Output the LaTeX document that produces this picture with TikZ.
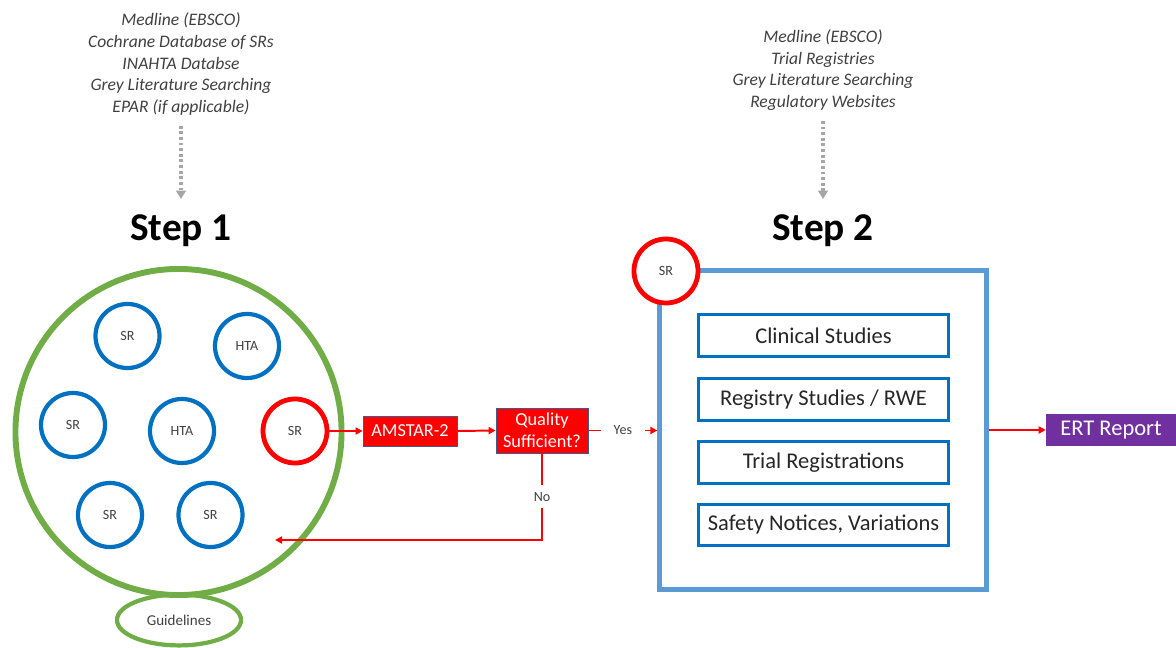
\documentclass[tikz,border=0pt]{standalone}
\usepackage{fontspec}
\setmainfont{Carlito}
\usepackage{xcolor}
\usepackage{tikz}
\usetikzlibrary{arrows.meta,shapes.geometric,positioning}

\definecolor{stepgreen}{RGB}{112,173,71}
\definecolor{srblue}{RGB}{0,112,192}
\definecolor{boxblue}{RGB}{91,155,213}
\definecolor{ertpurple}{RGB}{112,48,160}
\definecolor{textgray}{RGB}{64,64,64}
\definecolor{dotgray}{RGB}{166,166,166}
\definecolor{boxedge}{RGB}{65,90,140}

\begin{document}
\begin{tikzpicture}[x=0.025cm,y=-0.025cm,
    srctext/.style={align=center,text=textgray,font=\fontsize{12.5}{15.4}\selectfont\itshape},
    steptitle/.style={anchor=base,font=\fontsize{28}{33}\selectfont\bfseries},
    bluecirc/.style={circle,draw=srblue,line width=3pt,minimum size=1.6cm,text=textgray,font=\fontsize{10}{12}\selectfont},
    redcirc/.style={circle,draw=red,fill=white,line width=3.4pt,minimum size=1.6cm,text=textgray,font=\fontsize{10}{12}\selectfont},
    redbox/.style={fill=red,draw=boxedge,line width=0.5pt,text=white,align=center,inner sep=0pt},
    studybox/.style={draw=srblue,line width=2.2pt,minimum width=6.25cm,minimum height=1.03cm,text=black!85,font=\fontsize{16}{19}\selectfont},
    redarrow/.style={red,line width=1.4pt,-{Triangle[length=5pt,width=5pt]}},
    dotarrow/.style={dotgray,line width=2.2pt,dash pattern=on 2pt off 2pt,-{Triangle[length=6pt,width=7pt]}},
    smalllabel/.style={fill=white,text=textgray,font=\fontsize{10}{12}\selectfont}]

    \useasboundingbox (0,0) rectangle (1176,648);

    % Sources
    \node[srctext] (src1) at (181,64) {Medline (EBSCO)\\Cochrane Database of SRs\\INAHTA Databse\\Grey Literature Searching\\EPAR (if applicable)};
    \node[srctext] (src2) at (823,70) {Medline (EBSCO)\\Trial Registries\\Grey Literature Searching\\Regulatory Websites};

    % Step titles
    \node[steptitle] (step1) at (181,241) {Step 1};
    \node[steptitle] (step2) at (823,241) {Step 2};

    \draw[dotarrow,shorten <=4pt,shorten >=8pt] (src1.south) -- (step1.north);
    \draw[dotarrow,shorten <=4pt,shorten >=8pt] (src2.south) -- (step2.north);

    % Step 1 pool
    \node[circle,draw=stepgreen,line width=4.2pt,minimum size=8.15cm] (pool) at (178.5,432) {};
    \node[ellipse,draw=stepgreen,line width=3pt,minimum width=3.1cm,minimum height=1.27cm,text=textgray,font=\fontsize{10.7}{12}\selectfont] (guide) at (179,620) {Guidelines};

    \node[bluecirc] (sra) at (127.5,336) {SR};
    \node[bluecirc] (htaa) at (247,346) {HTA};
    \node[bluecirc] (srb) at (73,425) {SR};
    \node[bluecirc] (htab) at (182,431) {HTA};
    \node[bluecirc] (src) at (110,515) {SR};
    \node[bluecirc] (srd) at (210.5,515) {SR};
    \node[redcirc] (srsel) at (295,431) {SR};

    % Appraisal
    \node[redbox,minimum width=2.35cm,minimum height=0.75cm,font=\fontsize{13}{15}\selectfont] (amstar) at (410,431) {AMSTAR-2};
    \node[redbox,minimum width=2.3cm,minimum height=1.12cm,font=\fontsize{13}{15.6}\selectfont] (quality) at (542,430.5) {Quality\\Sufficient?};
    \coordinate (poolback) at (275,540);

    \draw[redarrow] (srsel.east) -- (amstar.west);
    \draw[redarrow] (amstar.east) -- (quality.west);
    \draw[redarrow] (quality.south) |- node[smalllabel,pos=0.25,inner ysep=5pt] {No} (poolback);

    % Step 2
    \node[draw=boxblue,line width=3pt,minimum width=8.175cm,minimum height=7.975cm] (step2box) at (823,430) {};
    \node[redcirc] (srstep2) at (666,271) {SR};

    \node[studybox] (clinical) at (823.5,335.5) {Clinical Studies};
    \node[studybox] (registry) at (823.5,399.5) {Registry Studies / RWE};
    \node[studybox] (trial) at (823.5,462.5) {Trial Registrations};
    \node[studybox] (safety) at (823.5,525) {Safety Notices, Variations};

    \draw[redarrow] (quality.east) -- node[smalllabel,inner xsep=9pt] {Yes} (quality.east -| step2box.west);

    % Output
    \node[fill=ertpurple,minimum width=3.25cm,minimum height=0.8cm,text=white,font=\fontsize{16}{19}\selectfont] (ert) at (1111,430) {ERT Report};
    \draw[redarrow] (step2box.east |- ert.west) -- (ert.west);
\end{tikzpicture}
\end{document}
